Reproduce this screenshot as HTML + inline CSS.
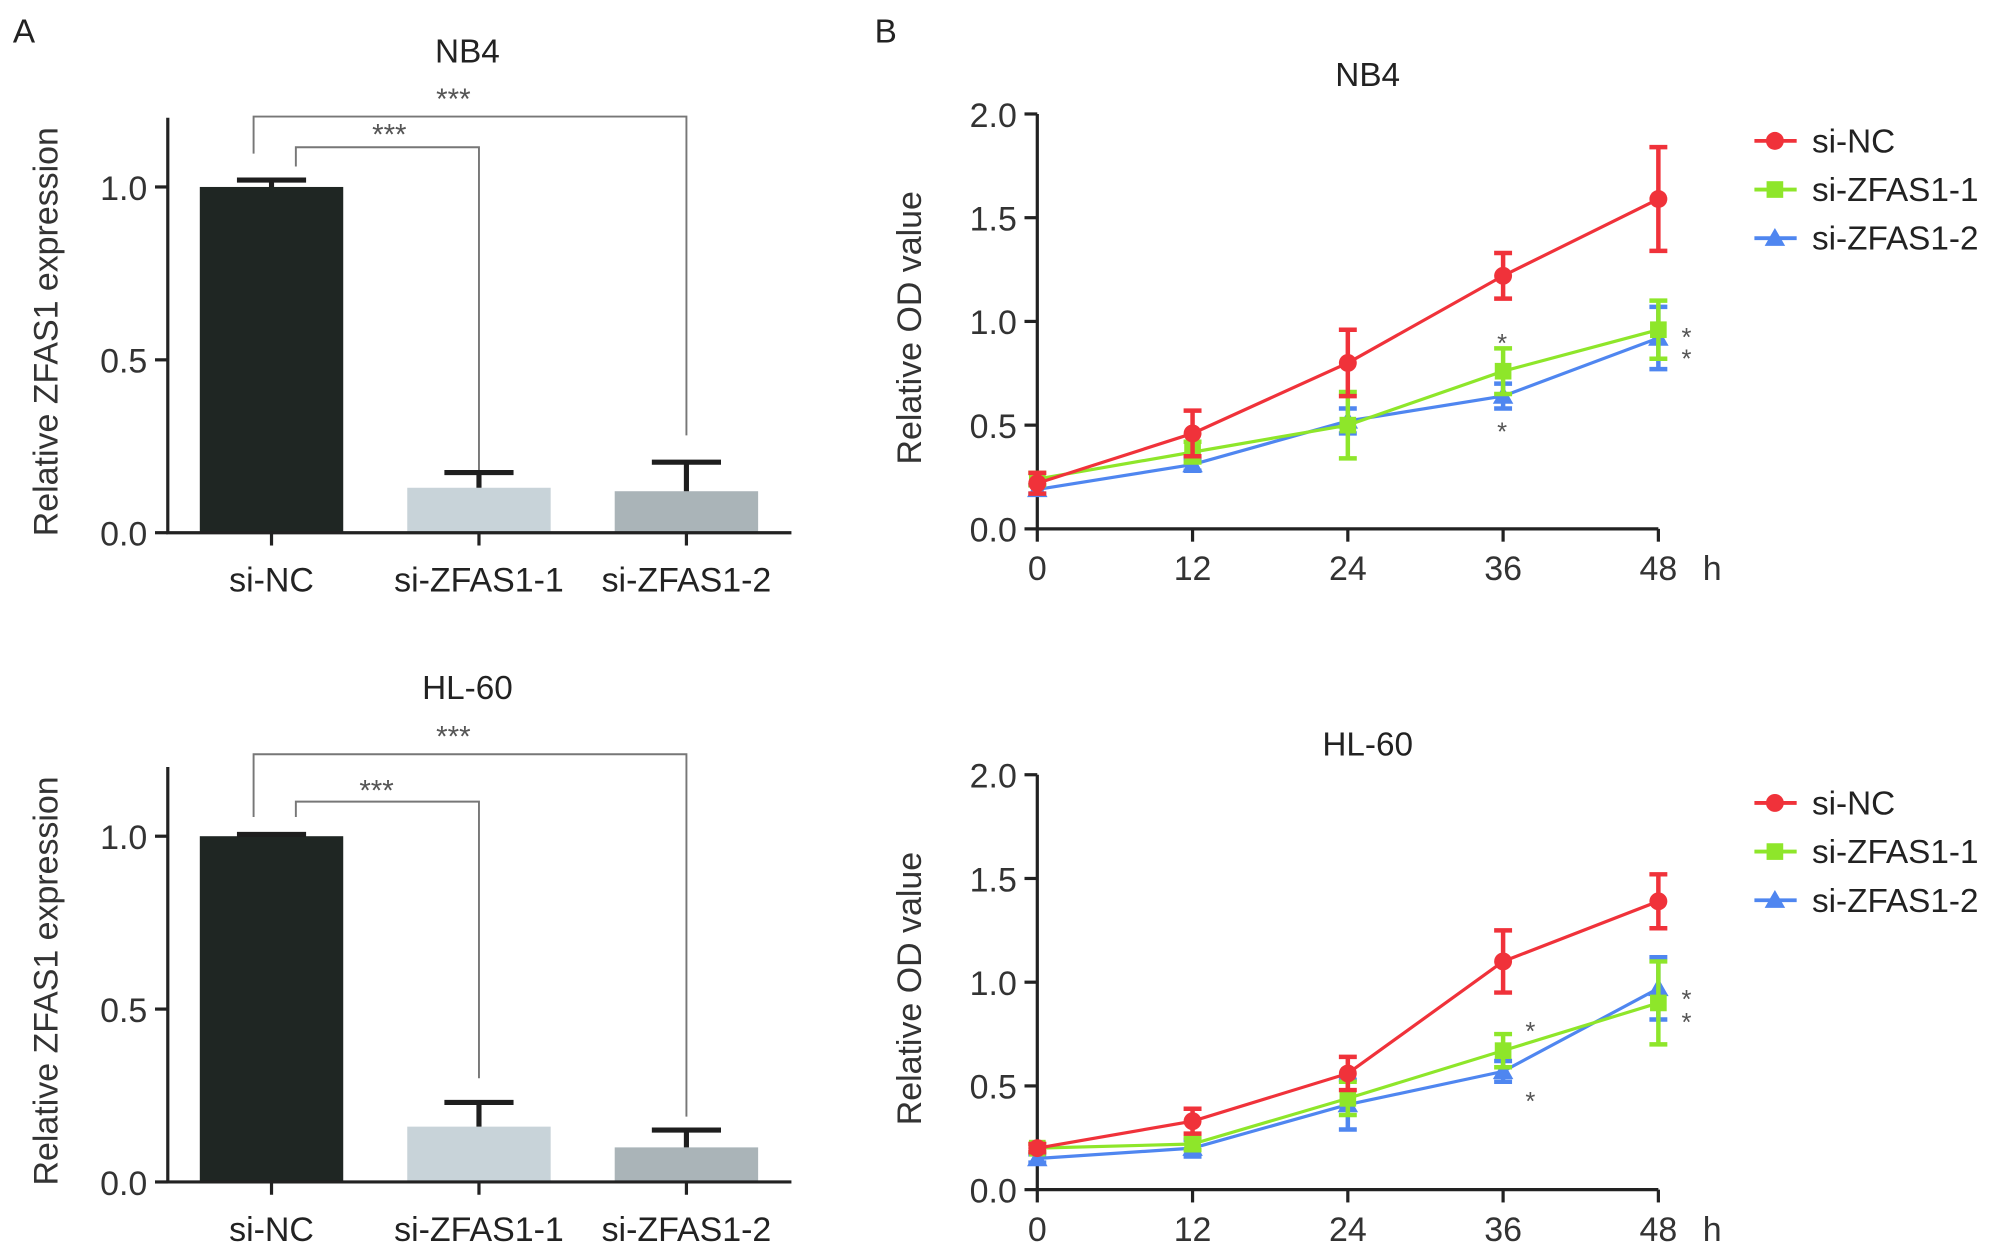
<!DOCTYPE html>
<html><head><meta charset="utf-8"><style>
html,body{margin:0;padding:0;background:#fff;}
svg{display:block;font-family:"Liberation Sans",Arial,sans-serif;}
</style></head><body>
<svg id="fig" width="2008" height="1257" viewBox="0 0 1568 981.6" xmlns="http://www.w3.org/2000/svg">
<text x="10" y="33" font-size="26" fill="#222">A</text>
<text x="683" y="33" font-size="26" fill="#222">B</text>
</svg>
<script>
const barCats = ["si-NC","si-ZFAS1-1","si-ZFAS1-2"];
const barNB4 = [1.0, 0.13, 0.12];
const barNB4Err = [0.02, 0.044, 0.084];
const barHL60 = [1.0, 0.16, 0.10];
const barHL60Err = [0.005, 0.07, 0.05];
const barTicks = [0.0, 0.5, 1.0];
const barColors = ["#1f2623","#c8d3d9","#aab4b8"];

const hours = [0,12,24,36,48];
const lineTicks = [0.0,0.5,1.0,1.5,2.0];
const seriesNames = ["si-NC","si-ZFAS1-1","si-ZFAS1-2"];
const seriesColors = ["#f0323a","#8ee62a","#4f86f0"];
const nb4NC = [0.22,0.46,0.80,1.22,1.59];
const nb4NCErr = [0.05,0.11,0.16,0.11,0.25];
const nb4Z1 = [0.24,0.37,0.50,0.76,0.96];
const nb4Z1Err = [0.03,0.05,0.16,0.11,0.14];
const nb4Z2 = [0.19,0.31,0.52,0.64,0.92];
const nb4Z2Err = [0.02,0.03,0.06,0.06,0.15];
const hlNC = [0.20,0.33,0.56,1.10,1.39];
const hlNCErr = [0.02,0.06,0.08,0.15,0.13];
const hlZ1 = [0.20,0.22,0.44,0.67,0.90];
const hlZ1Err = [0.02,0.03,0.08,0.08,0.20];
const hlZ2 = [0.15,0.20,0.41,0.57,0.97];
const hlZ2Err = [0.02,0.04,0.12,0.05,0.15];

const svg = document.getElementById('fig');
const NS = "http://www.w3.org/2000/svg";
function mk(tag, attrs, parent){
  const e = document.createElementNS(NS, tag);
  for (const k in attrs) e.setAttribute(k, attrs[k]);
  (parent||svg).appendChild(e);
  return e;
}
function txt(x,y,s,size,anchor,parent,fill){
  const t = mk('text',{x:x,y:y,'font-size':size,'text-anchor':anchor||'middle',fill:fill||'#222'},parent);
  t.textContent = s; return t;
}

function barChart(name, title, titleY, vals, errs, top, base, brackets){
  const g = mk('g',{});
  
  
  const x0 = 131, x1 = 618;
  const y = v => base - v*(base-top-54)/1.0;
  const cx = i => 212 + i*162;
  const tt = txt(365, titleY, title, 26, 'middle', g);
  
  
  vals.forEach((v,i)=>{
    const r = mk('rect',{x:cx(i)-56,y:y(v),width:112,height:base-y(v),fill:barColors[i]},g);
    
    
    const e = mk('path',{d:`M${cx(i)} ${y(v)} V${y(v+errs[i])} M${cx(i)-27} ${y(v+errs[i])} H${cx(i)+27}`,stroke:'#1e1e1e','stroke-width':4,fill:'none'},g);
    
    
    mk('line',{x1:cx(i),y1:base,x2:cx(i),y2:base+10,stroke:'#222','stroke-width':2.5},g);
    const l = txt(cx(i), base+46, barCats[i], 26.5, 'middle', g);
    
    
  });
  mk('path',{d:`M${x0} ${top} V${base} H${x1}`,stroke:'#222','stroke-width':2.5,fill:'none'},g);
  barTicks.forEach(t=>{
    mk('line',{x1:x0-10,y1:y(t),x2:x0,y2:y(t),stroke:'#222','stroke-width':2.5},g);
    const l = txt(x0-16, y(t)+10, t.toFixed(1), 26.5, 'end', g, '#333');
    
    
  });
  const yt = txt(0,0,'Relative ZFAS1 expression',26.5,'middle',g,'#333');
  yt.setAttribute('transform',`translate(45 ${(top+base)/2+5}) rotate(-90)`);
  
  
  brackets.forEach(b=>{
    const p = mk('path',{d:`M${b.x1} ${b.l} V${b.y} H${b.x2} V${b.r}`,stroke:'#777','stroke-width':1.5,fill:'none'},g);
    
    
    const s = txt(b.tx, b.ty, '***', 23, 'middle', g, '#555');
    
    
  });
}
barChart('bar-chart-nb4','NB4',49,barNB4,barNB4Err,92,416,[
  {x1:198,x2:536,y:91,l:120,r:340,tx:354,ty:85},
  {x1:231,x2:374,y:115,l:130,r:367,tx:304,ty:113}]);
barChart('bar-chart-hl60','HL-60',546,barHL60,barHL60Err,599,923,[
  {x1:198,x2:536,y:589,l:638,r:872,tx:354,ty:583},
  {x1:231,x2:374,y:626,l:638,r:842,tx:294,ty:625}]);

function marker(kind, x, y, c, g){
  if (kind===0) return mk('circle',{cx:x,cy:y,r:7,fill:c},g);
  if (kind===1) return mk('rect',{x:x-6.5,y:y-6.5,width:13,height:13,fill:c},g);
  return mk('path',{d:`M${x} ${y-8} L${x+8} ${y+6} L${x-8} ${y+6}Z`,fill:c},g);
}

function lineChart(name, title, titleY, series, errs, top, base, stars, legendY){
  const g = mk('g',{});
  
  
  const x0 = 810, x1 = 1295;
  const x = h => x0 + h*(x1-x0)/48;
  const y = v => base - v*(base-top)/2.0;
  const tt = txt(1068, titleY, title, 26, 'middle', g);
  
  
  mk('path',{d:`M${x0} ${top} V${base} H${x1}`,stroke:'#222','stroke-width':2.5,fill:'none'},g);
  lineTicks.forEach(t=>{
    mk('line',{x1:x0-10,y1:y(t),x2:x0,y2:y(t),stroke:'#222','stroke-width':2.5},g);
    const l = txt(x0-16, y(t)+10, t.toFixed(1), 26.5, 'end', g, '#333');
    
    
  });
  hours.forEach(h=>{
    mk('line',{x1:x(h),y1:base,x2:x(h),y2:base+10,stroke:'#222','stroke-width':2.5},g);
    const l = txt(x(h), base+40, String(h), 26.5, 'middle', g, '#333');
    
    
  });
  const hl = txt(1337, base+40, 'h', 26.5, 'middle', g, '#333');
  
  
  const yt = txt(0,0,'Relative OD value',26.5,'middle',g,'#333');
  yt.setAttribute('transform',`translate(719 ${(top+base)/2+5}) rotate(-90)`);
  
  
  [2,1,0].forEach(si=>{
    const vals = series[si], er = errs[si], c = seriesColors[si];
    const sg = mk('g',{},g);
    
    
    mk('polyline',{points:hours.map((h,i)=>x(h)+','+y(vals[i])).join(' '),stroke:c,'stroke-width':2.5,fill:'none'},sg);
    hours.forEach((h,i)=>{
      const xx = x(h), a = y(vals[i]+er[i]), b = y(vals[i]-er[i]);
      mk('path',{d:`M${xx} ${a} V${b} M${xx-7} ${a} H${xx+7} M${xx-7} ${b} H${xx+7}`,stroke:c,'stroke-width':3.5,fill:'none'},sg);
      const m = marker(si, xx, y(vals[i]), c, sg);
      
      
    });
  });
  stars.forEach(s=>{
    const t = txt(s[0], s[1], '*', 20, 'middle', g, '#555');
    
    
  });
  seriesNames.forEach((n,i)=>{
    const lg = mk('g',{},g);
    
    
    const yy = legendY + i*38;
    mk('line',{x1:1370,y1:yy,x2:1403,y2:yy,stroke:seriesColors[i],'stroke-width':3},lg);
    marker(i, 1386, yy, seriesColors[i], lg);
    txt(1415, yy+9, n, 26, 'start', lg, '#222');
  });
}
lineChart('line-chart-nb4','NB4',67,[nb4NC,nb4Z1,nb4Z2],[nb4NCErr,nb4Z1Err,nb4Z2Err],89,413,
  [[1173,275],[1173,344],[1317,270],[1317,287]],110);
lineChart('line-chart-hl60','HL-60',590,[hlNC,hlZ1,hlZ2],[hlNCErr,hlZ1Err,hlZ2Err],605,929,
  [[1195,812],[1195,867],[1317,787],[1317,805]],627);
</script>
</body></html>
